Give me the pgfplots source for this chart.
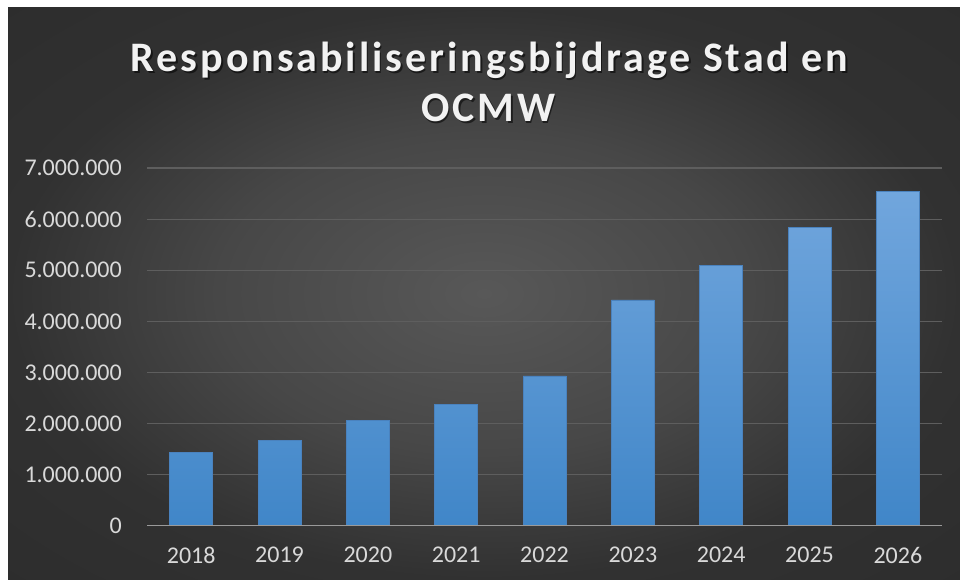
\documentclass[border=0pt]{standalone}
\usepackage{pgfplots}
\pgfplotsset{compat=1.18}
\usepackage{fontspec}
\setmainfont{Carlito}
\newfontfamily\titlefont[LetterSpace=7]{Carlito}
\definecolor{bgin}{HTML}{585858}
\definecolor{bgmid}{HTML}{474747}
\definecolor{bgedge}{HTML}{313131}
\definecolor{bgout}{HTML}{282828}
\pgfdeclareradialshading{bgshade}{\pgfpoint{0bp}{0bp}}{color(0bp)=(bgin); color(14bp)=(bgmid); color(25bp)=(bgedge); color(50bp)=(bgout)}
\definecolor{barTop}{HTML}{71A6DD}
\definecolor{barBot}{HTML}{4086C8}
\definecolor{barEdge}{HTML}{4A82BE}
\definecolor{gridc}{HTML}{5E5E5E}
\definecolor{axisc}{HTML}{9A9A9A}
\definecolor{tickc}{HTML}{D9D9D9}
\definecolor{titlec}{HTML}{F2F2F2}
\pgfplotstableread{
x year value
0 2018 1440000
1 2019 1670000
2 2020 2060000
3 2021 2380000
4 2022 2930000
5 2023 4420000
6 2024 5090000
7 2025 5830000
8 2026 6540000
}\datatable
\begin{document}
\begin{tikzpicture}[x=1pt,y=1pt]
\useasboundingbox (0,0) rectangle (960,579);
\fill[white] (0,0) rectangle (960,579);
\shade[shading=bgshade] (8,0) rectangle (960,571);
\node[anchor=base, text=black, opacity=0.55, font=\titlefont\bfseries\fontsize{42}{50}\selectfont] at (491,505.8) {Responsabiliseringsbijdrage Stad en};
\node[anchor=base, text=black, opacity=0.55, font=\titlefont\bfseries\fontsize{42}{50}\selectfont] at (490,455.8) {OCMW};
\node[anchor=base, text=titlec, font=\titlefont\bfseries\fontsize{42}{50}\selectfont] at (489.5,507.3) {Responsabiliseringsbijdrage Stad en};
\node[anchor=base, text=titlec, font=\titlefont\bfseries\fontsize{42}{50}\selectfont] at (488.5,457.3) {OCMW};
\begin{axis}[
  at={(147pt,53.3pt)}, anchor=south west,
  scale only axis, width=795pt, height=357.7pt,
  xmin=-0.5, xmax=8.5, ymin=0, ymax=7000000,
  axis line style={draw=none},
  major tick length=0pt,
  xtick={0,...,8},
  xticklabels={2018,2019,2020,2021,2022,2023,2024,2025,2026},
  ytick={0,1000000,...,7000000},
  scaled y ticks=false,
  ymajorgrids, grid style={gridc, line width=1.2pt},
  tick label style={font=\fontsize{24}{28}\selectfont, text=tickc, inner sep=0pt},
  yticklabel shift=25pt,
  xticklabel shift=21pt,
  /pgf/number format/.cd, fixed, 1000 sep={.}, assume math mode=true,
]
\addplot[ybar, bar width=43pt, draw=barEdge, line width=0.6pt, top color=barTop, bottom color=barBot]
  table[x=x, y=value] {\datatable};
\draw[axisc, line width=1.4pt] (axis cs:-0.5,0) -- (axis cs:8.5,0);
\end{axis}
\end{tikzpicture}
\end{document}
